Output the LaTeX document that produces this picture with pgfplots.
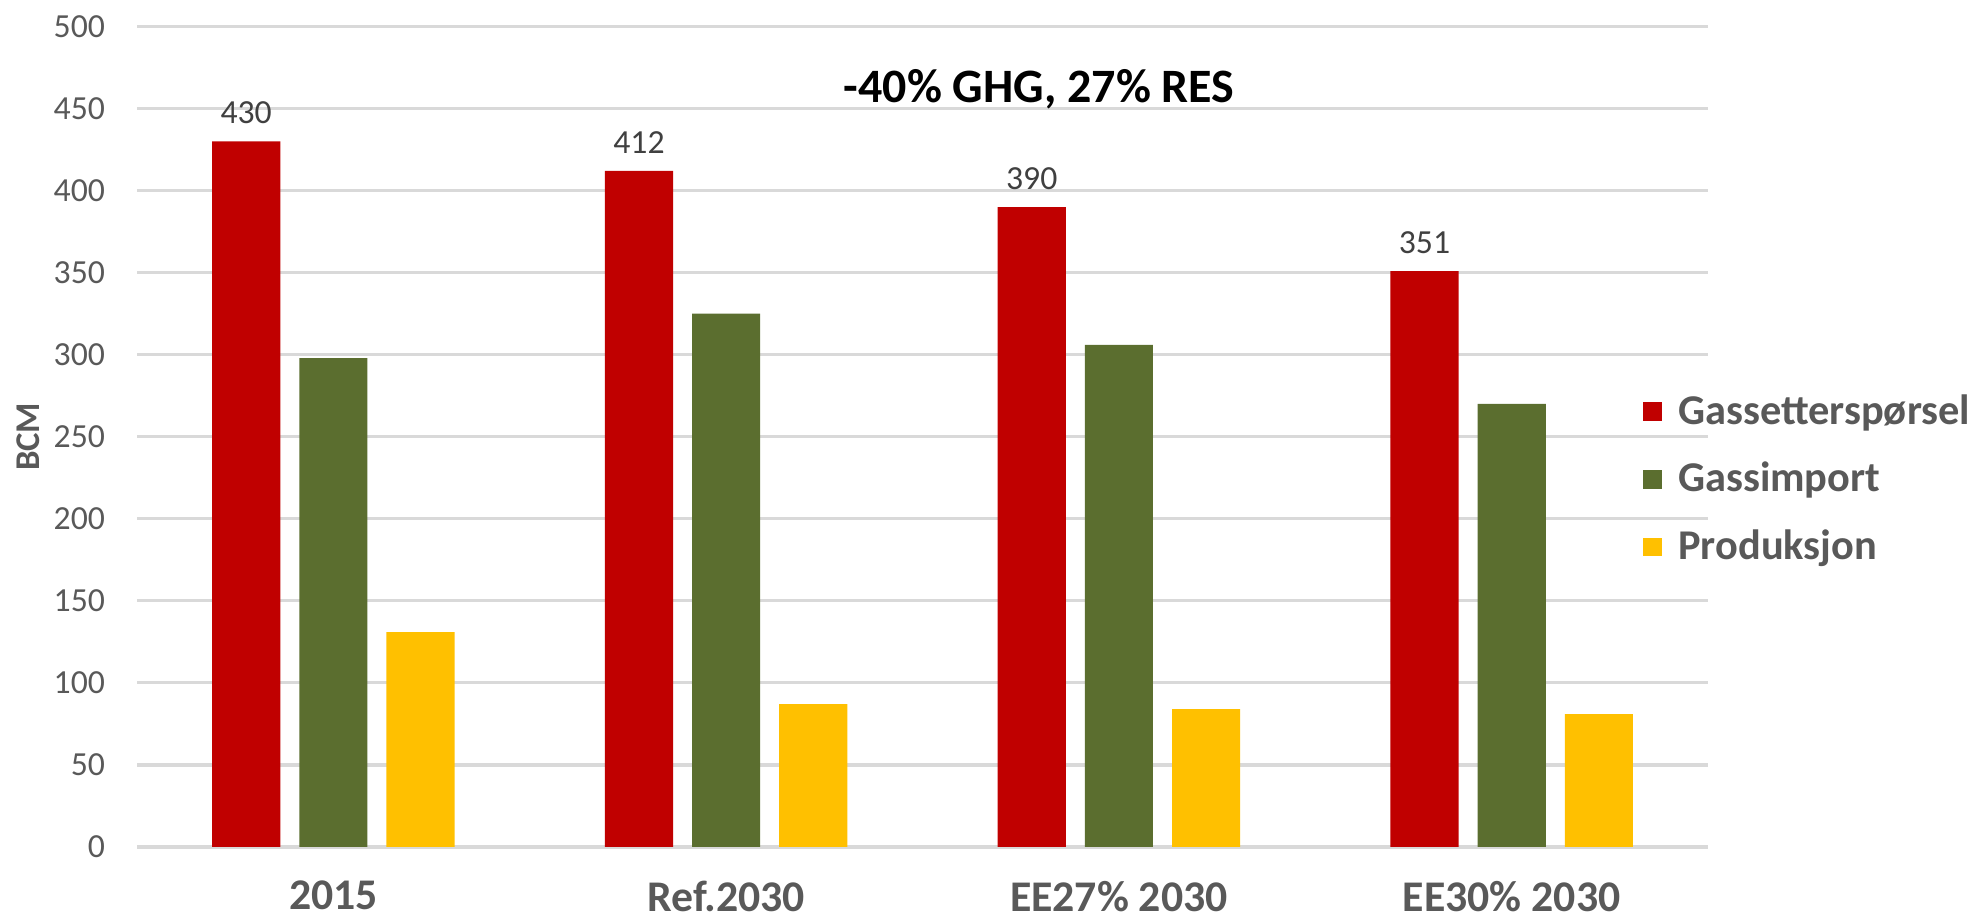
\documentclass[border=0pt]{standalone}
\usepackage{fontspec}
\setmainfont{Carlito}
\usepackage{pgfplots}
\pgfplotsset{compat=1.18}

\definecolor{cred}{HTML}{C00000}
\definecolor{cgreen}{HTML}{5B6E2F}
\definecolor{cyellow}{HTML}{FFC000}
\definecolor{cgrid}{HTML}{D9D9D9}
\definecolor{ctext}{HTML}{595959}
\definecolor{clabel}{HTML}{404040}

\pgfplotsset{
  sqlegend/.style={legend image code/.code={
    \fill[##1] (0cm,-0.095cm) rectangle (0.19cm,0.095cm);
    \path (0.29cm,0);}},
}

\begin{document}
\begin{tikzpicture}
\useasboundingbox (0,0) rectangle (20cm,9.307cm);
\begin{axis}[
    at={(1.386cm,0.7385cm)}, anchor=south west,
    width=15.893cm, height=8.30cm, scale only axis,
    xmin=-0.5, xmax=3.5,
    ymin=0, ymax=500,
    ytick={0,50,...,500},
    xtick={0,1,2,3},
    xticklabels={2015,Ref.2030,EE27\% 2030,EE30\% 2030},
    major tick length=0pt,
    axis line style={draw=none},
    ymajorgrids, grid style={cgrid, line width=0.9pt},
    /pgf/number format/assume math mode=true,
    yticklabel style={font=\fontsize{9.7}{11}\selectfont, text=ctext, xshift=-0.2cm},
    xticklabel style={font=\fontsize{12.6}{14}\selectfont\bfseries, text=ctext, yshift=-0.22cm},
    ylabel={BCM},
    every axis y label/.style={at={(axis description cs:-0.069,0.5)}, rotate=90, anchor=center,
      font=\fontsize{10}{12}\selectfont\bfseries, text=ctext},
    ybar, bar width=0.1736,
    sqlegend,
    legend style={draw=none, fill=none, at={(0.958,0.561)}, anchor=north west,
      font=\fontsize{12.2}{14}\selectfont\bfseries, text=ctext,
      row sep=0.19cm, inner sep=0pt, cells={anchor=west, inner sep=0pt}},
]
\addplot[fill=cred, draw=none, bar shift=-0.222,
    nodes near coords, nodes near coords style={font=\fontsize{9.7}{11}\selectfont, text=clabel, yshift=0.05cm}]
  coordinates {(0,430) (1,412) (2,390) (3,351)};
\addlegendentry{Gassetterspørsel}
\addplot[fill=cgreen, draw=none, bar shift=0]
  coordinates {(0,298) (1,325) (2,306) (3,270)};
\addlegendentry{Gassimport}
\addplot[fill=cyellow, draw=none, bar shift=0.222]
  coordinates {(0,131) (1,87) (2,84) (3,81)};
\addlegendentry{Produksjon}
\node[font=\fontsize{13.8}{16}\selectfont\bfseries, text=black] at (axis cs:1.797,461.6) {-40\% GHG, 27\% RES};
\end{axis}
\end{tikzpicture}
\end{document}
